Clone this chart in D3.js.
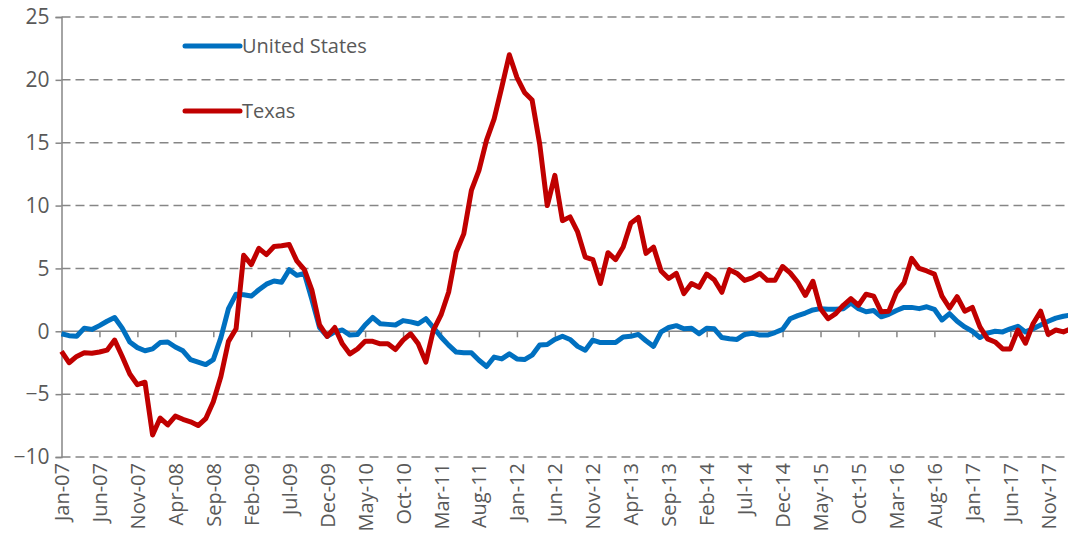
<!doctype html>
<html>
<head>
<meta charset="UTF-8">
<title>US vs Texas</title>
<script src="https://d3js.org/d3.v7.min.js"></script>
<style>
  body { margin: 0; background: #fff; }
  text { font-family: "Open Sans", sans-serif; fill: #595959; }
</style>
</head>
<body>
<svg width="1068" height="546"></svg>
<script>
// month index 0 = Jan-07
var tickLabels = ["Jan-07","Jun-07","Nov-07","Apr-08","Sep-08","Feb-09","Jul-09","Dec-09","May-10","Oct-10",
  "Mar-11","Aug-11","Jan-12","Jun-12","Nov-12","Apr-13","Sep-13","Feb-14","Jul-14","Dec-14",
  "May-15","Oct-15","Mar-16","Aug-16","Jan-17","Jun-17","Nov-17"];
var tickMonths = tickLabels.map(function(d, i){ return i * 5; });
var yTicks = [-10, -5, 0, 5, 10, 15, 20, 25];

var unitedStates = [-0.2,-0.35,-0.4,0.25,0.15,0.45,0.8,1.1,0.25,-0.85,-1.3,-1.55,
  -1.4,-0.9,-0.85,-1.25,-1.55,-2.25,-2.45,-2.65,-2.25,-0.5,1.8,2.95,
  2.9,2.8,3.3,3.75,4.0,3.9,4.9,4.45,4.6,2.5,0.3,-0.4,
  -0.05,0.1,-0.3,-0.25,0.5,1.1,0.6,0.55,0.5,0.85,0.75,0.6,
  1.0,0.3,-0.45,-1.1,-1.65,-1.7,-1.7,-2.3,-2.8,-2.05,-2.2,-1.8,
  -2.2,-2.25,-1.9,-1.1,-1.05,-0.65,-0.4,-0.65,-1.2,-1.5,-0.7,-0.9,
  -0.9,-0.9,-0.45,-0.4,-0.25,-0.75,-1.2,-0.05,0.3,0.45,0.2,0.25,
  -0.2,0.25,0.2,-0.5,-0.6,-0.65,-0.25,-0.15,-0.3,-0.3,-0.1,0.15,
  1.0,1.25,1.45,1.7,1.8,1.75,1.75,1.8,2.25,1.8,1.55,1.65,
  1.15,1.35,1.65,1.9,1.9,1.8,1.95,1.75,0.9,1.4,0.8,0.35,
  0.0,-0.5,-0.15,0.0,-0.05,0.2,0.4,-0.05,0.2,0.5,0.8,1.05,
  1.2,1.3];

var texas = [-1.6,-2.5,-2.0,-1.7,-1.75,-1.65,-1.5,-0.7,-2.0,-3.4,-4.25,-4.05,
  -8.25,-6.9,-7.45,-6.75,-7.0,-7.2,-7.5,-6.95,-5.6,-3.6,-0.8,0.2,
  6.05,5.3,6.6,6.1,6.75,6.8,6.9,5.6,4.9,3.25,0.5,-0.4,
  0.3,-1.0,-1.8,-1.4,-0.8,-0.8,-1.0,-1.0,-1.45,-0.7,-0.2,-1.0,
  -2.45,0.1,1.3,3.1,6.3,7.75,11.2,12.8,15.2,16.9,19.4,22.0,
  20.2,19.0,18.4,14.9,10.0,12.4,8.8,9.1,7.9,5.9,5.7,3.8,
  6.25,5.7,6.7,8.6,9.05,6.2,6.7,4.8,4.2,4.6,3.0,3.8,
  3.5,4.55,4.1,3.1,4.9,4.6,4.05,4.25,4.6,4.05,4.05,5.15,
  4.65,3.9,2.85,3.98,1.8,1.0,1.4,2.07,2.6,2.07,2.95,2.8,
  1.55,1.6,3.1,3.85,5.8,5.0,4.8,4.55,2.8,1.85,2.75,1.6,
  1.9,0.35,-0.6,-0.85,-1.4,-1.4,0.1,-0.95,0.6,1.6,-0.25,0.1,
  -0.05,0.2];

var series = [
  {name: "United States", values: unitedStates, color: "#0070C0", ly: 46},
  {name: "Texas", values: texas, color: "#C00000", ly: 111}
];

var svg = d3.select("svg");
var x = d3.scaleLinear().domain([0, 133]).range([61.5, 1071]);
var y = d3.scaleLinear().domain([-10, 25]).range([457, 17]);
var grey = "#868686";

// dashed gridlines
svg.append("g").selectAll("line")
  .data(yTicks.filter(function(d){ return d !== 0; }))
  .enter().append("line")
  .attr("x1", x(0)).attr("x2", x(133))
  .attr("y1", function(d){ return y(d); }).attr("y2", function(d){ return y(d); })
  .attr("stroke", grey).attr("stroke-width", 1.5).attr("stroke-dasharray", "9,5");

// y axis
var yAxis = svg.append("g").attr("transform", "translate(" + x(0) + ",0)")
  .call(d3.axisLeft(y).tickValues(yTicks).tickSize(6).tickPadding(6));
yAxis.select(".domain").attr("stroke", grey).attr("stroke-width", 1.5);
yAxis.selectAll(".tick line").attr("stroke", grey).attr("stroke-width", 1.5);
yAxis.selectAll("text").style("font-size", "21px").attr("fill", "#595959");

// zero line with month ticks
var xAxis = svg.append("g").attr("transform", "translate(0," + y(0) + ")")
  .call(d3.axisBottom(x).tickValues(tickMonths).tickSize(6).tickFormat(""));
xAxis.select(".domain").attr("stroke", grey).attr("stroke-width", 1.5).attr("d", "M" + x(0) + ",0H" + x(133));
xAxis.selectAll(".tick line").attr("stroke", grey).attr("stroke-width", 1.5);

// month labels at bottom
var xLab = svg.append("g").attr("transform", "translate(0," + y(-10) + ")")
  .call(d3.axisBottom(x).tickValues(tickMonths).tickSize(0)
    .tickFormat(function(d, i){ return tickLabels[i]; }));
xLab.select(".domain").remove();
xLab.selectAll("text")
  .style("font-size", "20px").attr("fill", "#595959")
  .attr("text-anchor", "end")
  .attr("transform", "rotate(-90)")
  .attr("x", -6).attr("y", 0).attr("dy", "0.35em");

// lines
var line = d3.line()
  .x(function(d, i){ return x(i); })
  .y(function(d){ return y(d); });

svg.append("g").selectAll("path")
  .data(series).enter().append("path")
  .attr("d", function(s){ return line(s.values); })
  .attr("fill", "none")
  .attr("stroke", function(s){ return s.color; })
  .attr("stroke-width", 5)
  .attr("stroke-linejoin", "round");

// legend
var leg = svg.append("g").selectAll("g").data(series).enter().append("g");
leg.append("line")
  .attr("x1", 185).attr("x2", 240)
  .attr("y1", function(s){ return s.ly; }).attr("y2", function(s){ return s.ly; })
  .attr("stroke", function(s){ return s.color; }).attr("stroke-width", 5)
  .attr("stroke-linecap", "round");
leg.append("text")
  .attr("x", 242).attr("y", function(s){ return s.ly; }).attr("dy", "0.35em")
  .style("font-size", "20px")
  .text(function(s){ return s.name; });
</script>
</body>
</html>
